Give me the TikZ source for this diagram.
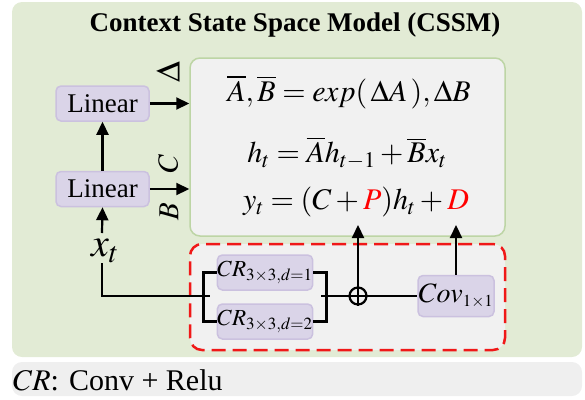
\documentclass[tikz,border=0pt]{standalone}
\usepackage{mathptmx}
\usepackage{fontspec}
\setmainfont{Liberation Serif}
\newfontfamily\tms{Liberation Serif}
\usetikzlibrary{arrows.meta,calc}
\definecolor{bggreen}{HTML}{E2EBD5}
\definecolor{eqgray}{HTML}{F1F1F1}
\definecolor{eqborder}{HTML}{BDD5A5}
\definecolor{lav}{HTML}{DAD4E8}
\definecolor{lavb}{HTML}{CBC1DF}
\definecolor{legendgray}{HTML}{EFEFEF}
\definecolor{myred}{HTML}{F01818}
\begin{document}
\begin{tikzpicture}[x=1pt,y=-1pt,
  box/.style={draw=lavb, fill=lav, line width=1.5pt, rounded corners=5pt, inner sep=0pt},
  conn/.style={line width=2.2pt, black},
  arr/.style={conn, -{Triangle[length=13pt,width=12pt]}},
  fs/.style={font=\tms\fontsize{#1}{#1}\selectfont}
]
\useasboundingbox (0,0) rectangle (585,399);
\node[fill=bggreen, rounded corners=10pt, minimum width=570pt, minimum height=355pt, inner sep=0pt] (bg) at (297,179.5) {};
\node[fill=legendgray, rounded corners=10pt, minimum width=570pt, minimum height=34pt, inner sep=0pt] (leg) at (297,379) {};
\node[font=\tms\bfseries\fontsize{27}{30}\selectfont] (title) at (295,25) {Context State Space Model (CSSM)};

\node[draw=eqborder, fill=eqgray, line width=1.5pt, rounded corners=10pt, minimum width=315pt, minimum height=178pt, inner sep=0pt] (eqbox) at (347.5,147) {};
\node[fs=30] (eq1) at (349,92) {$\overline{A},\overline{B}=exp(\,\Delta A\,),\Delta B$};
\node[fs=30] (eq2) at (347,153) {$h_t=\overline{A}h_{t-1}+\overline{B}x_t$};
\node[fs=30] (eq3) at (356,202) {$y_t=(C+\textcolor{red}{P})h_t+\textcolor{red}{D}$};

\node[draw=myred, fill=eqgray, line width=2.5pt, dash pattern=on 14pt off 7pt, rounded corners=12pt, minimum width=315pt, minimum height=106pt, inner sep=0pt] (redbox) at (347.5,297) {};

\node[box, minimum width=93pt, minimum height=35pt, fs=27] (lin1) at (102.5,103.5) {Linear};
\node[box, minimum width=93pt, minimum height=35pt, fs=27] (lin2) at (102.5,189) {Linear};
\draw[arr] (lin1.east) -- (lin1.east -| eqbox.west);
\draw[arr] (lin2.east) -- (lin2.east -| eqbox.west);
\draw[arr] (lin2.north) -- (lin1.south);
\node[rotate=90, fs=34] (dl) at (168,72) {$\Delta$};
\node[rotate=90, fs=29] (cl) at (168,164) {$C$};
\node[rotate=90, fs=29] (bl) at (169,212) {$B$};

\node[fs=40, inner sep=0pt, anchor=base west] (xt) at (91,256) {$x_t$};
\coordinate (xtop) at (102,233);
\coordinate (xbot) at (102,263);
\coordinate (sp) at (210,296);
\draw[arr] (xtop) -- (lin2.south);
\draw[conn] (xbot) |- (sp);

\node[box, minimum width=84pt, minimum height=35pt, fs=23] (cr1) at (265,272.5) {$CR_{3\times3,d=1}$};
\node[box, minimum width=86pt, minimum height=35pt, fs=23] (cr2) at (265,321.5) {$CR_{3\times3,d=2}$};
\draw[conn] (cr1.west) -- ++(-13,0) |- (cr2.west);
\draw[conn] (cr1.east) -- ++(13,0) |- (cr2.east);
\coordinate (jn) at (321,296);

\node[circle, draw, line width=2.2pt, minimum size=17pt, inner sep=0pt] (op) at (358,296) {};
\draw[line width=2.2pt] (op.north) -- (op.south) (op.west) -- (op.east);
\node[box, minimum width=76pt, minimum height=41pt, fs=28] (cov) at (456,296) {$Cov_{\scriptscriptstyle 1\times1}$};
\draw[conn] (jn) -- (op.west);
\draw[conn] (op.east) -- (cov.west);
\coordinate (ylev) at (0,225);
\draw[arr] (op.north) -- (op.north |- ylev);
\draw[arr] (cov.north) -- (cov.north |- ylev);

\node[anchor=west, fs=30, inner sep=0pt] (legtxt) at (13,380) {$CR$: Conv + Relu};
\end{tikzpicture}
\end{document}
